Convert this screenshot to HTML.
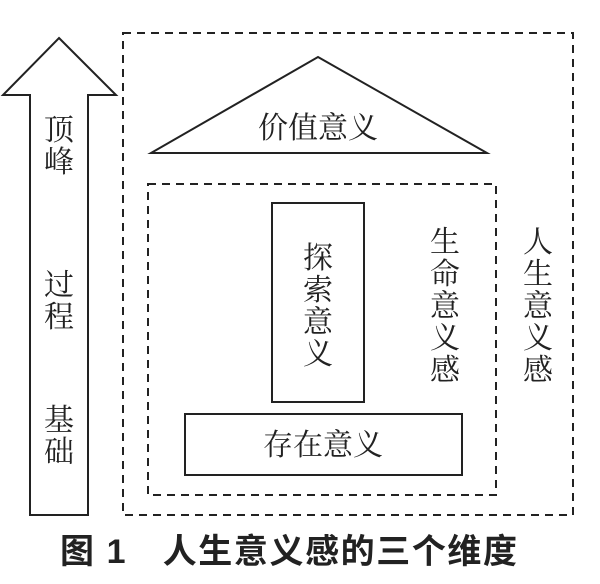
<!DOCTYPE html>
<html><head><meta charset="utf-8"><style>
body{margin:0;background:#fff;width:600px;height:579px;overflow:hidden}
</style></head><body>
<svg width="600" height="579" xmlns="http://www.w3.org/2000/svg" style="font-family:'Liberation Serif','Noto Serif CJK SC',serif">
<g fill="none" stroke="#222" stroke-width="2">
<polygon points="59,38 116,95 88,95 88,515 30,515 30,95 3,95"/>
<rect x="123" y="33" width="450" height="482" stroke-dasharray="8,6"/>
<rect x="148" y="184" width="348" height="311" stroke-dasharray="8,6"/>
<polygon points="318,57 487,153 151,153"/>
<rect x="272" y="203" width="92" height="199"/>
<rect x="185" y="414" width="277" height="61"/>
</g>
<g fill="#222" font-size="30" text-anchor="middle">
<text x="59" y="140">顶</text><text x="59" y="172">峰</text>
<text x="59" y="295">过</text><text x="59" y="327">程</text>
<text x="59" y="430">基</text><text x="59" y="462">础</text>
<text x="318" y="138">价值意义</text>
<text x="318" y="268">探</text><text x="318" y="300">索</text><text x="318" y="332">意</text><text x="318" y="364">义</text>
<text x="323" y="455">存在意义</text>
<text x="445" y="252">生</text><text x="445" y="284">命</text><text x="445" y="316">意</text><text x="445" y="348">义</text><text x="445" y="380">感</text>
<text x="538" y="252">人</text><text x="538" y="284">生</text><text x="538" y="316">意</text><text x="538" y="348">义</text><text x="538" y="380">感</text>
</g>
<text x="60" y="563" textLength="457" lengthAdjust="spacing" font-size="34" font-weight="bold" fill="#222" style="font-family:'Liberation Sans','Noto Sans CJK SC',sans-serif">图 1　人生意义感的三个维度</text>
</svg>
</body></html>
